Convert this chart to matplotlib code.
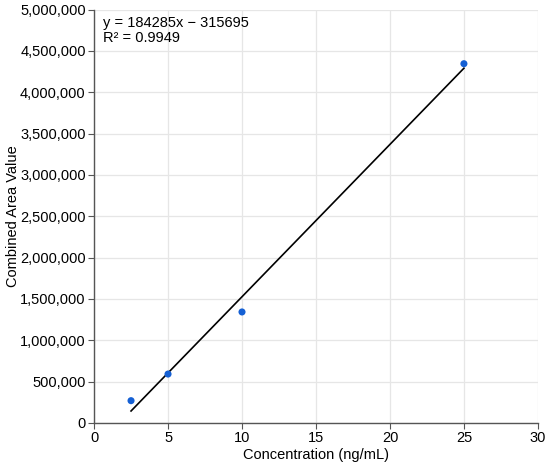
import matplotlib
matplotlib.use("Agg")
import matplotlib.pyplot as plt
from matplotlib.ticker import FuncFormatter
import numpy as np

conc = [2.5, 5, 10, 25]
area = [270000, 592000, 1343000, 4346000]
slope = 184285
intercept = -315695
r2 = 0.9949

plt.rcParams['font.family'] = ['Liberation Sans', 'DejaVu Sans']

fig = plt.figure(figsize=(5.5, 4.66), dpi=100)
ax = fig.add_axes([0.171, 0.0923, 0.807, 0.887])

ax.grid(True, color='#e6e6e6', linewidth=0.9)
ax.set_axisbelow(True)

xl = np.array([min(conc), max(conc)])
ax.plot(xl, slope * xl + intercept, color='black', linewidth=1.2, zorder=2)
ax.scatter(conc, area, color='#1560d4', s=26, zorder=3, edgecolors='none')

ax.set_xlim(0, 30)
ax.set_ylim(0, 5000000)
ax.set_xticks(range(0, 31, 5))
ax.set_yticks(range(0, 5000001, 500000))
ax.yaxis.set_major_formatter(FuncFormatter(lambda v, p: f"{int(v):,}"))

for s in ['top', 'right']:
    ax.spines[s].set_visible(False)
for s in ['left', 'bottom']:
    ax.spines[s].set_color('#555555')
    ax.spines[s].set_linewidth(1.0)
ax.tick_params(axis='both', labelsize=10.5, length=4, color='#555555', pad=2)

ax.set_xlabel('Concentration (ng/mL)', fontsize=10.5, labelpad=2)
ax.set_ylabel('Combined Area Value', fontsize=10.5, labelpad=0)

ax.text(0.02, 0.985, f"y = {slope}x \u2212 {abs(intercept)}\nR\u00b2 = {r2}",
        transform=ax.transAxes, fontsize=10.5, va='top', ha='left', linespacing=1.15)

fig.savefig('out.png', dpi=100)
